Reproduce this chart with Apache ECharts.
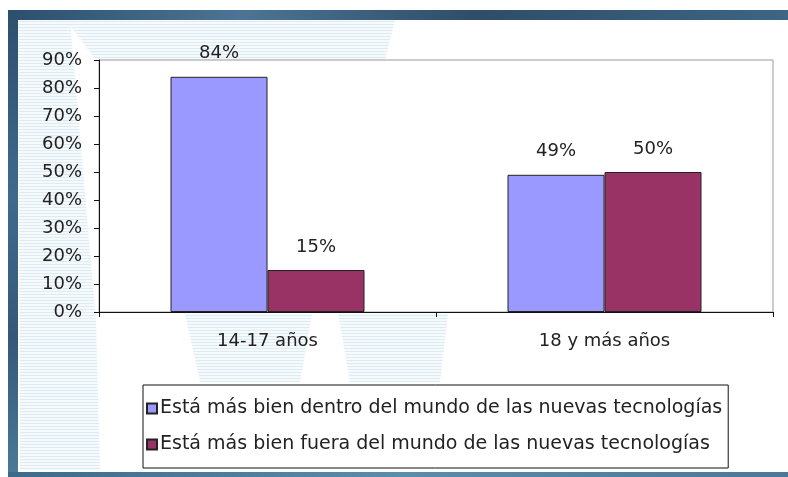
<!DOCTYPE html>
<html>
<head>
    <meta charset="utf-8">
    <title>Nuevas tecnologías</title>
    <script src="https://cdn.jsdelivr.net/npm/echarts@6/dist/echarts.min.js"></script>
    <style>
        html, body { margin: 0; padding: 0; background: #fff; }
        #main { width: 788px; height: 477px; }
    </style>
</head>
<body>
    <div id="main"></div>
    <script type="text/javascript">
        // datos del gráfico
        var categorias = ['14-17 años', '18 y más años'];
        var dentro = [84, 49];
        var fuera = [15, 50];
        var nombres = [
            'Está más bien dentro del mundo de las nuevas tecnologías',
            'Está más bien fuera del mundo de las nuevas tecnologías'
        ];
        var colores = ['#9999ff', '#993366'];

        // trama de rayas claras para la marca de agua del fondo
        var trama = document.createElement('canvas');
        trama.width = 4;
        trama.height = 3;
        var ctx = trama.getContext('2d');
        ctx.fillStyle = '#f6fafc';
        ctx.fillRect(0, 0, 4, 3);
        ctx.fillStyle = '#dcecf2';
        ctx.fillRect(0, 0, 4, 1);
        var relleno = { image: trama, repeat: 'repeat' };

        function marca(puntos) {
            return {
                type: 'polygon', z: -10, silent: true,
                shape: { points: puntos },
                style: { fill: relleno }
            };
        }

        var fuente = 'DejaVu Sans';
        var myChart = echarts.init(document.getElementById('main'));

        var option = {
            backgroundColor: '#ffffff',
            animation: false,
            textStyle: { fontFamily: fuente },
            graphic: [
                marca([[18, 20], [70, 20], [96, 320], [100, 470], [20, 470]]),
                marca([[66, 20], [395, 20], [385, 60], [96, 60]]),
                marca([[185, 314], [312, 314], [300, 382], [200, 382]]),
                marca([[338, 314], [448, 314], [440, 382], [350, 382]]),
                {
                    type: 'rect', z: 50, silent: true,
                    shape: { x: 8, y: 10, width: 780, height: 10 },
                    style: {
                        fill: new echarts.graphic.LinearGradient(0, 0, 1, 0, [
                            { offset: 0, color: '#2d4f6e' },
                            { offset: 0.3, color: '#4c7494' },
                            { offset: 0.6, color: '#2f4d68' },
                            { offset: 1, color: '#3d6584' }
                        ])
                    }
                },
                {
                    type: 'rect', z: 50, silent: true,
                    shape: { x: 8, y: 10, width: 10, height: 467 },
                    style: {
                        fill: new echarts.graphic.LinearGradient(0, 0, 0, 1, [
                            { offset: 0, color: '#2d4f6e' },
                            { offset: 0.4, color: '#3f6a8c' },
                            { offset: 0.7, color: '#35587a' },
                            { offset: 1, color: '#4a7a98' }
                        ])
                    }
                },
                {
                    type: 'rect', z: 50, silent: true,
                    shape: { x: 8, y: 472, width: 780, height: 5 },
                    style: {
                        fill: new echarts.graphic.LinearGradient(0, 0, 1, 0, [
                            { offset: 0, color: '#3d6a8a' },
                            { offset: 0.5, color: '#5a8cab' },
                            { offset: 1, color: '#4a7898' }
                        ])
                    }
                }
            ],
            grid: {
                left: 99,
                right: 15,
                top: 60,
                bottom: 165,
                show: true,
                backgroundColor: '#ffffff',
                borderColor: '#9a9a9a',
                borderWidth: 1
            },
            legend: {
                orient: 'vertical',
                left: 143,
                top: 385,
                padding: [14, 6, 14, 3],
                itemGap: 17,
                itemWidth: 10,
                itemHeight: 10,
                borderColor: '#111',
                borderWidth: 1,
                backgroundColor: '#ffffff',
                icon: 'rect',
                data: nombres,
                textStyle: { fontFamily: fuente, fontSize: 19, color: '#222', padding: [0, 0, 0, -2] }
            },
            xAxis: {
                type: 'category',
                data: categorias,
                axisLine: { lineStyle: { color: '#111', width: 1 } },
                axisTick: { show: true, length: 5, inside: false, lineStyle: { color: '#111' } },
                axisLabel: { fontFamily: fuente, fontSize: 18, color: '#222', margin: 20 }
            },
            yAxis: {
                type: 'value',
                min: 0,
                max: 90,
                interval: 10,
                splitLine: { show: false },
                axisLine: { show: true, lineStyle: { color: '#111', width: 1 } },
                axisTick: { show: true, length: 5, lineStyle: { color: '#111' } },
                axisLabel: { fontFamily: fuente, fontSize: 18, color: '#222', margin: 17, formatter: '{value}%' }
            },
            series: [
                {
                    name: nombres[0],
                    type: 'bar',
                    data: dentro,
                    barWidth: 97,
                    barGap: '0%',
                    itemStyle: { color: colores[0], borderColor: '#222', borderWidth: 1 },
                    label: { show: true, position: 'top', distance: 14, formatter: '{c}%',
                             fontFamily: fuente, fontSize: 18, color: '#222' }
                },
                {
                    name: nombres[1],
                    type: 'bar',
                    data: fuera,
                    barWidth: 97,
                    barGap: '0%',
                    itemStyle: { color: colores[1], borderColor: '#222', borderWidth: 1 },
                    label: { show: true, position: 'top', distance: 14, formatter: '{c}%',
                             fontFamily: fuente, fontSize: 18, color: '#222' }
                }
            ]
        };
        myChart.setOption(option);
    </script>
</body>
</html>
